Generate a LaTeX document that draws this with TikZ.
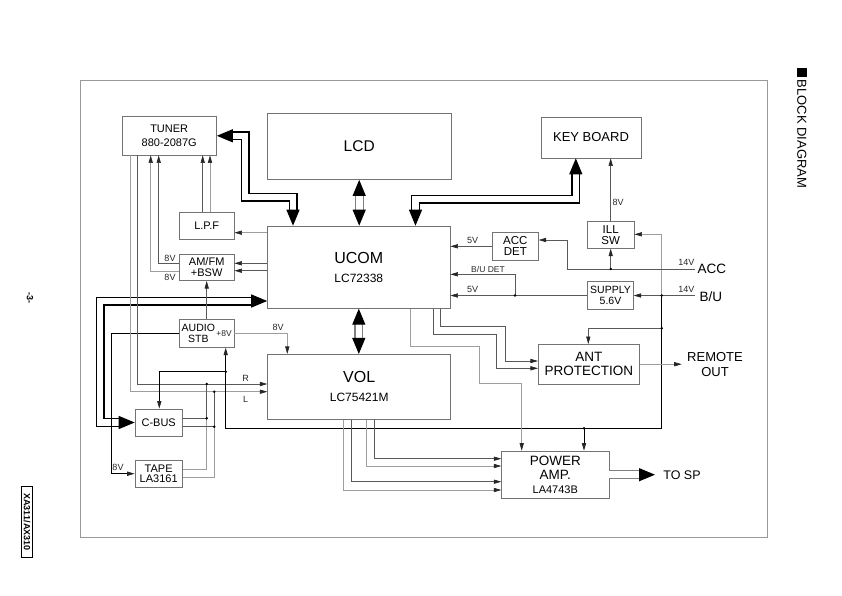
\documentclass[tikz,border=0pt]{standalone}
\usepackage{fontspec}
\setmainfont{Liberation Sans}
\usetikzlibrary{arrows.meta}
\tikzset{
  bigT/.tip={Triangle[length=16pt,width=13pt,color=black]},
  smT/.tip={Triangle[length=7.5pt,width=4.2pt,color=black!85]},
  box/.style={draw=black!55, line width=0.7pt, fill=white, inner sep=0pt, align=center, text=black},
  bk/.style={draw=black, line width=0.8pt},
  dg/.style={draw=black!65, line width=0.6pt},
  lg/.style={draw=black!38, line width=0.6pt},
  bus/.style={draw=black, line width=1.2pt, double=white, double distance=6.6pt},
  gbus/.style={draw=black!50, line width=1.1pt, double=white, double distance=6.6pt},
  jd/.style={circle, fill=black, inner sep=0pt, minimum size=2.8pt},
  lab/.style={font=\fontsize{9}{9}\selectfont, inner sep=0pt, text=black!85},
  sbox/.style={box, font=\fontsize{11}{10.6}\selectfont},
}
\begin{document}
\begin{tikzpicture}[x=1pt,y=-1pt]
\useasboundingbox (0,0) rectangle (842,595);
% frame
\draw[draw=black!40, line width=0.8pt] (80,80) rectangle (767,537);

% blocks
\node[box, minimum width=94.5pt, minimum height=38.5pt, font=\fontsize{11}{14.4}\selectfont] (tuner) at (169.2,135.8) {TUNER\\880-2087G};
\node[box, minimum width=183.5pt, minimum height=66.2pt, font=\fontsize{15.5}{18}\selectfont] (lcd) at (359.2,146.4) {LCD};
\node[box, minimum width=100pt, minimum height=41pt, font=\fontsize{13}{15}\selectfont] (kb) at (591,137.5) {KEY BOARD};
\node[sbox, minimum width=54.7pt, minimum height=27pt] (lpf) at (206.7,225.8) {L.P.F};
\node[sbox, minimum width=54.7pt, minimum height=26.7pt] (amfm) at (206.7,267.3) {AM/FM\\+BSW};
\node[box, minimum width=182.5pt, minimum height=82.3pt, font=\fontsize{12}{19}\selectfont] (ucom) at (358.8,267.2) {{\fontsize{16}{19}\selectfont UCOM}\\LC72338};
\node[box, minimum width=54.7pt, minimum height=28pt] (audio) at (206.7,333.3) {};
\node[font=\fontsize{10.5}{11.3}\selectfont, align=center, inner sep=0pt] (audiotxt) at (198.3,333.5) {AUDIO\\STB};
\node[lab, font=\fontsize{8.5}{9}\selectfont] (audiov) at (224,333.5) {+8V};
\node[box, minimum width=183pt, minimum height=65pt, font=\fontsize{12}{19.3}\selectfont] (vol) at (359.2,386.8) {{\fontsize{16}{19.3}\selectfont VOL}\\LC75421M};
\node[sbox, minimum width=47.3pt, minimum height=27pt] (cbus) at (158.7,422.5) {C-BUS};
\node[sbox, minimum width=47.3pt, minimum height=27.3pt] (tape) at (158.7,473.7) {TAPE\\LA3161};
\node[box, minimum width=46pt, minimum height=27.3pt, font=\fontsize{11.5}{10.7}\selectfont] (accdet) at (515.3,246.3) {ACC\\DET};
\node[box, minimum width=46.7pt, minimum height=26.6pt, font=\fontsize{11.5}{10.3}\selectfont] (illsw) at (610.7,235) {ILL\\SW};
\node[box, minimum width=45.6pt, minimum height=27.6pt, font=\fontsize{10.5}{10.7}\selectfont] (supply) at (610.5,295.5) {SUPPLY\\5.6V};
\node[box, minimum width=101pt, minimum height=39.7pt, font=\fontsize{13.5}{14.4}\selectfont] (ant) at (588.8,364.2) {ANT\\PROTECTION};
\node[box, minimum width=107.3pt, minimum height=47.3pt, font=\fontsize{11}{14.2}\selectfont] (pamp) at (555.3,474.7) {{\fontsize{13.5}{14.2}\selectfont POWER}\\{\fontsize{13.5}{14.2}\selectfont AMP.}\\LA4743B};

% outside texts
\node[font=\fontsize{13.5}{15}\selectfont, inner sep=0pt] (acc) at (711.8,268.6) {ACC};
\node[font=\fontsize{13.5}{15}\selectfont, inner sep=0pt] (bu) at (710.8,296.2) {B/U};
\node[font=\fontsize{13}{15}\selectfont, align=center, inner sep=0pt] (remote) at (715,364.8) {REMOTE\\OUT};
\node[font=\fontsize{12.5}{15}\selectfont, inner sep=0pt] (tosp) at (682,475) {TO SP};
\coordinate (accin) at (695,269);
\coordinate (buin) at (695,295.5);
\coordinate (remend) at (681.7,364.2);
\coordinate (spend) at (655,474.7);

% junctions
\coordinate (jbu) at (661.7,295.5);
\coordinate (jant) at (661.7,328.3);
\coordinate (jpa) at (584,428.3);
\coordinate (jcb) at (225.7,371.7);
\coordinate (jill) at (610.7,269);
\coordinate (jdet) at (515,295.5);
\coordinate (jr) at (206.7,384);
\coordinate (jl) at (214.3,391.7);
\coordinate (jc1) at (206.7,418.3);
\coordinate (jc2) at (214.3,426.7);

% buses
\draw[bus, bigT-bigT] (tuner.east) -| (245,197) -| (ucom.north -| 293,0);
\draw[bus, bigT-bigT] (kb.south -| 575.8,0) |- (415.5,199) -- (ucom.north -| 415.5,0);
\draw[gbus, bigT-bigT] (lcd.south) -- (lcd.south |- ucom.north);
\draw[gbus, bigT-bigT] (ucom.south) -- (ucom.south |- vol.north);
\draw[bus, bigT-bigT] (cbus.west) -| (100,301) -- (ucom.west |- 0,301);
\draw[gbus, -bigT] (pamp.east) -- (spend);

% tuner area
\draw[dg, -smT] (lpf.north -| 202.7,0) -- (tuner.south -| 202.7,0);
\draw[lg, -smT] (lpf.north -| 210,0) -- (tuner.south -| 210,0);
\draw[dg, -smT] (amfm.west |- 0,263) -| (tuner.south -| 158.7,0);
\draw[lg, -smT] (amfm.west |- 0,271.7) -| (tuner.south -| 150.7,0);
\node[lab] at (170,258) {8V};
\node[lab] at (170,277) {8V};
\draw[lg, -smT] (ucom.west |- 0,232.7) -- (lpf.east |- 0,232.7);
\draw[dg, -smT] (ucom.west |- 0,263.3) -- (amfm.east |- 0,263.3);
\draw[dg, -smT] (ucom.west |- 0,270.7) -- (amfm.east |- 0,270.7);
\draw[dg, -smT] (audio.north) -- (amfm.south);

% audio stb
\draw[bk, -smT] (audio.west) -| (111.7,400) |- (tape.west);
\node[lab] at (118,467.7) {8V};
\draw[lg, -smT] (audio.east) -| (vol.north -| 287.3,0);
\node[lab] at (278,327.7) {8V};

% tuner R/L to VOL
\draw[dg, -smT] (tuner.south -| 137.3,0) |- (vol.west |- 0,384);
\draw[lg, -smT] (tuner.south -| 130,0) |- (vol.west |- 0,391.7);
\node[lab] at (245.7,378.3) {R};
\node[lab] at (245.7,399) {L};
\draw[dg] (cbus.east |- 0,418.3) -| (jr);
\draw[lg] (tape.east |- 0,469.3) -| (jc1);
\draw[dg] (cbus.east |- 0,426.7) -| (jl);
\draw[lg] (tape.east |- 0,477.3) -| (jc2);

% 14V network
\draw[dg, -smT] (buin) -- (supply.east);
\node[lab] at (686.3,289.7) {14V};
\draw[lg, -smT] (jbu) -- (661.7,234.3) -- (illsw.east |- 0,234.3);
\draw[bk, -smT] (jbu) |- (225.7,428.3) -- (audio.south -| 225.7,0);
\draw[dg, -smT] (jant) -| (ant.north -| 588.3,0);
\draw[bk, -smT] (jpa) -- (pamp.north -| jpa);
\draw[bk, -smT] (jcb) -| (cbus.north -| 159.3,0);
\draw[dg, -smT] (accin) -| (567,240) -- (accdet.east |- 0,240);
\node[lab] at (686.3,262.3) {14V};
\draw[dg, -smT] (jill) -- (illsw.south);
\draw[dg, -smT] (illsw.north) -- (kb.south -| illsw.north);
\node[lab] at (618,202.7) {8V};

% to UCOM right
\draw[dg, -smT] (accdet.west) -- (ucom.east |- accdet.west);
\node[lab] at (472.7,240.7) {5V};
\draw[dg, -smT] (supply.west) -- (ucom.east |- supply.west);
\node[lab] at (472.7,289) {5V};
\draw[dg, -smT] (jdet) |- (ucom.east |- 0,274.3);
\node[lab, font=\fontsize{8.5}{9}\selectfont] at (488,269) {B/U DET};

% UCOM bottom lines
\draw[lg, -smT] (ucom.south -| 410,0) |- (479,346.7) |- (521.7,383.3) -- (pamp.north -| 521.7,0);
\draw[dg, -smT] (ucom.south -| 433.3,0) |- (496.7,334) |- (ant.west |- 0,368.3);
\draw[dg, -smT] (ucom.south -| 440.7,0) |- (505,326.7) |- (ant.west |- 0,361);
\draw[lg, -smT] (ant.east) -- (remend);

% VOL to power amp
\draw[dg, -smT] (vol.south -| 374.3,0) |- (pamp.west |- 0,458.7);
\draw[lg, -smT] (vol.south -| 366,0) |- (pamp.west |- 0,466);
\draw[dg, -smT] (vol.south -| 351.7,0) |- (pamp.west |- 0,481.7);
\draw[lg, -smT] (vol.south -| 343.3,0) |- (pamp.west |- 0,490);

% dots
\foreach \p in {jbu,jant,jpa,jcb,jill,jdet,jr,jl,jc1,jc2} \node[jd] at (\p) {};

% side texts
\node[rotate=-90, font=\bfseries\fontsize{9}{9}\selectfont, inner sep=0pt] (pg) at (30,298) {-3-};
\node[rotate=-90, draw=black, line width=0.8pt, font=\bfseries\fontsize{9}{9}\selectfont, inner xsep=7pt, inner ysep=2pt] (model) at (27,522) {XA311/AX310};
\fill[black] (796.5,67.5) rectangle (807,77);
\node[rotate=-90, font=\fontsize{13}{13}\selectfont, inner sep=0pt, anchor=west] (title) at (801.8,79.5) {BLOCK DIAGRAM};
\end{tikzpicture}
\end{document}
